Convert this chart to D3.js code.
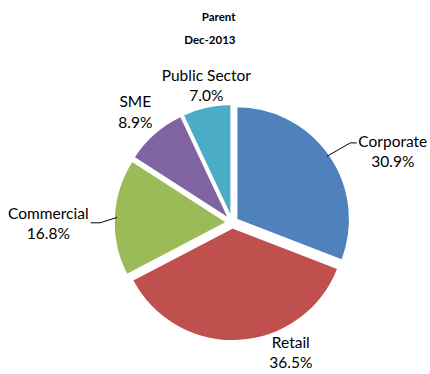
<!DOCTYPE html>
<html>
<head>
<meta charset="utf-8">
<script src="https://cdn.jsdelivr.net/npm/d3@7"></script>
<style>
  html, body { margin: 0; padding: 0; background: #fff; }
  svg { display: block; }
  text { font-family: Lato, "Open Sans", sans-serif; fill: #000; }
</style>
</head>
<body>
<svg id="chart" width="430" height="374"></svg>
<script>
// Portfolio split, Parent, Dec-2013
const categories = ["Corporate", "Retail", "Commercial", "SME", "Public Sector"];
const shares = [30.9, 36.5, 16.8, 8.9, 7.0];
const colors = ["#4F81BD", "#C0504D", "#9BBB59", "#8064A2", "#4BACC6"];
const titleLines = ["Parent", "Dec-2013"];

const width = 430, height = 374;
const cx = 232.3, cy = 222.5, radius = 113, explode = 5.3;

// label block placement, relative to the pie centre (centre x, first baseline)
const labelOffsets = [[160.5, -76], [58.5, 125], [-184, -4], [-97, -115.5], [-26, -142]];
// leader lines: angle on the rim (deg, clockwise from 12 o'clock), elbow and end point relative to centre
const leaders = [
  { i: 0, angle: 55, elbow: [118, -79.6], end: [124.4, -79.6] },
  { i: 2, angle: 272.5, elbow: [-132.3, 0.3], end: [-141.6, 0.3] }
];

const svg = d3.select("#chart");

svg.selectAll("text.title")
  .data(titleLines)
  .join("text")
  .attr("class", "title")
  .attr("x", 235.5)
  .attr("y", (d, i) => 21 + i * 22.5)
  .attr("text-anchor", "end")
  .style("font-weight", "bold")
  .style("font-size", "11.5px")
  .text(d => d);

const pie = d3.pie().sort(null).value(d => d);
const arcs = pie(shares);
const arc = d3.arc().innerRadius(0).outerRadius(radius);

const mid = d => (d.startAngle + d.endAngle) / 2;
const shift = d => [explode * Math.sin(mid(d)), -explode * Math.cos(mid(d))];

const g = svg.append("g").attr("transform", `translate(${cx},${cy})`);

g.selectAll("path.slice")
  .data(arcs)
  .join("path")
  .attr("class", "slice")
  .attr("d", arc)
  .attr("transform", d => `translate(${shift(d)})`)
  .attr("fill", (d, i) => colors[i])
  .attr("stroke", "#fff")
  .attr("stroke-width", 1.5)
  .attr("stroke-linejoin", "round");

// leader lines
leaders.forEach(l => {
  const d = arcs[l.i];
  const s = shift(d);
  const a = l.angle * Math.PI / 180;
  const p0 = [s[0] + (radius - 3) * Math.sin(a), s[1] - (radius - 3) * Math.cos(a)];
  g.append("path")
    .attr("d", d3.line()([p0, l.elbow, l.end]))
    .attr("fill", "none")
    .attr("stroke", "#000")
    .attr("stroke-width", 1);
});

// category / percentage labels
const labels = g.selectAll("text.lbl")
  .data(arcs)
  .join("text")
  .attr("class", "lbl")
  .attr("text-anchor", "middle")
  .style("font-size", "15.5px");

labels.each(function(d, i) {
  const t = d3.select(this);
  const [x, y] = labelOffsets[i];
  t.append("tspan").attr("x", x).attr("y", y).text(categories[i]);
  t.append("tspan").attr("x", x).attr("y", y + 20.5).text(d3.format(".1f")(shares[i]) + "%");
});
</script>
</body>
</html>
